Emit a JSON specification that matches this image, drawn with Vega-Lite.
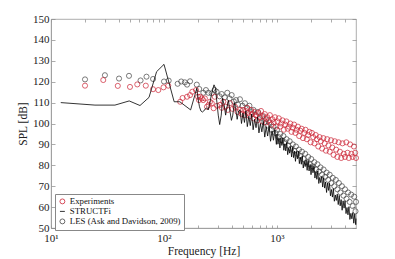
{
"$schema": "https://vega.github.io/schema/vega-lite/v6.json",
"width": 305, "height": 209,
"autosize": {"type": "none"},
"padding": {"left": 51, "top": 19, "right": 39, "bottom": 31},
"background": "white",
"config": {
 "font": "Liberation Serif",
 "view": {"stroke": "#999", "strokeWidth": 0.8},
 "axis": {"grid": false, "domainColor": "#999", "domainWidth": 0.8, "tickColor": "#888", "tickWidth": 0.7, "labelFont": "Liberation Serif", "titleFont": "Liberation Serif", "labelColor": "#222", "titleColor": "#222", "labelFontSize": 11, "titleFontSize": 11.5, "titleFontWeight": "normal", "labelFlush": false, "labelOverlap": false},
 "legend": {"labelFont": "Liberation Serif", "titleFont": "Liberation Serif"}
},
"datasets": {
"pts": [
{"f":20,"v":121.1,"s":"LES"},{"f":30,"v":123.1,"s":"LES"},{"f":40,"v":121.5,"s":"LES"},{"f":49,"v":122.8,"s":"LES"},{"f":62,"v":120.6,"s":"LES"},{"f":70,"v":122.4,"s":"LES"},{"f":80,"v":121.3,"s":"LES"},{"f":100,"v":120.1,"s":"LES"},{"f":110,"v":120.5,"s":"LES"},{"f":132,"v":119,"s":"LES"},{"f":142,"v":120.1,"s":"LES"},{"f":153,"v":119.7,"s":"LES"},{"f":160,"v":118.6,"s":"LES"},{"f":170,"v":120.2,"s":"LES"},{"f":195,"v":118.6,"s":"LES"},
{"f":205,"v":116.5,"s":"LES"},{"f":223,"v":114.7,"s":"LES"},{"f":235,"v":116,"s":"LES"},{"f":247,"v":114.7,"s":"LES"},{"f":264,"v":114.4,"s":"LES"},{"f":280,"v":116,"s":"LES"},{"f":292,"v":115.2,"s":"LES"},{"f":310,"v":113,"s":"LES"},{"f":324,"v":114.1,"s":"LES"},{"f":345,"v":112.5,"s":"LES"},{"f":363,"v":114.7,"s":"LES"},{"f":380,"v":112,"s":"LES"},{"f":397,"v":113.6,"s":"LES"},{"f":415,"v":110.5,"s":"LES"},{"f":434,"v":111.2,"s":"LES"},{"f":452,"v":109,"s":"LES"},{"f":470,"v":111.6,"s":"LES"},
{"f":495,"v":108.5,"s":"LES"},{"f":520,"v":109.7,"s":"LES"},{"f":545,"v":107.3,"s":"LES"},{"f":570,"v":108.5,"s":"LES"},{"f":595,"v":105.5,"s":"LES"},{"f":620,"v":106.5,"s":"LES"},{"f":650,"v":104,"s":"LES"},{"f":680,"v":105.5,"s":"LES"},{"f":710,"v":102.5,"s":"LES"},{"f":740,"v":103.5,"s":"LES"},{"f":770,"v":100.5,"s":"LES"},{"f":800,"v":102,"s":"LES"},{"f":830,"v":99,"s":"LES"},{"f":860,"v":100.5,"s":"LES"},{"f":895,"v":97,"s":"LES"},{"f":930,"v":98.5,"s":"LES"},{"f":965,"v":95.5,"s":"LES"},{"f":1000,"v":97,"s":"LES"},{"f":1035,"v":93.5,"s":"LES"},{"f":1070,"v":95,"s":"LES"},{"f":1105,"v":92,"s":"LES"},{"f":1140,"v":94,"s":"LES"},{"f":1175,"v":91,"s":"LES"},{"f":1215,"v":92.5,"s":"LES"},{"f":1255,"v":89.5,"s":"LES"},{"f":1295,"v":91.5,"s":"LES"},{"f":1335,"v":88,"s":"LES"},{"f":1380,"v":90,"s":"LES"},{"f":1425,"v":87,"s":"LES"},{"f":1470,"v":89,"s":"LES"},{"f":1515,"v":85.5,"s":"LES"},{"f":1565,"v":87.5,"s":"LES"},{"f":1615,"v":84.5,"s":"LES"},{"f":1665,"v":86.5,"s":"LES"},{"f":1720,"v":83,"s":"LES"},{"f":1775,"v":85.5,"s":"LES"},{"f":1830,"v":81.5,"s":"LES"},{"f":1890,"v":84,"s":"LES"},{"f":1950,"v":80.5,"s":"LES"},{"f":2010,"v":83,"s":"LES"},{"f":2075,"v":79.5,"s":"LES"},{"f":2140,"v":81.5,"s":"LES"},{"f":2210,"v":78,"s":"LES"},{"f":2280,"v":80.5,"s":"LES"},{"f":2350,"v":77,"s":"LES"},{"f":2425,"v":79,"s":"LES"},{"f":2500,"v":75.5,"s":"LES"},{"f":2580,"v":78,"s":"LES"},{"f":2665,"v":74.5,"s":"LES"},{"f":2750,"v":76.5,"s":"LES"},{"f":2835,"v":73,"s":"LES"},{"f":2925,"v":75.5,"s":"LES"},{"f":3020,"v":71.5,"s":"LES"},{"f":3115,"v":74,"s":"LES"},{"f":3215,"v":70,"s":"LES"},{"f":3315,"v":73,"s":"LES"},{"f":3420,"v":68.5,"s":"LES"},{"f":3530,"v":71.5,"s":"LES"},{"f":3640,"v":67,"s":"LES"},{"f":3755,"v":70,"s":"LES"},{"f":3875,"v":65.5,"s":"LES"},{"f":4000,"v":68.5,"s":"LES"},{"f":4125,"v":64,"s":"LES"},{"f":4255,"v":67,"s":"LES"},{"f":4390,"v":62.5,"s":"LES"},{"f":4530,"v":66,"s":"LES"},{"f":4675,"v":60.5,"s":"LES"},{"f":4820,"v":65,"s":"LES"},{"f":4950,"v":58,"s":"LES"},{"f":5000,"v":62.5,"s":"LES"},
{"f":20,"v":118.1,"s":"Experiments"},{"f":29,"v":120.8,"s":"Experiments"},{"f":39,"v":118,"s":"Experiments"},{"f":50,"v":117.5,"s":"Experiments"},{"f":58,"v":118.7,"s":"Experiments"},{"f":69,"v":118.1,"s":"Experiments"},{"f":80,"v":116.4,"s":"Experiments"},{"f":89,"v":116,"s":"Experiments"},{"f":99,"v":117.3,"s":"Experiments"},{"f":109,"v":118.1,"s":"Experiments"},{"f":139,"v":110.4,"s":"Experiments"},{"f":146,"v":112.2,"s":"Experiments"},{"f":160,"v":112.8,"s":"Experiments"},{"f":170,"v":113.6,"s":"Experiments"},{"f":178,"v":115.2,"s":"Experiments"},{"f":192,"v":116,"s":"Experiments"},
{"f":200,"v":112.8,"s":"Experiments"},{"f":204,"v":111.2,"s":"Experiments"},{"f":209,"v":112.8,"s":"Experiments"},{"f":216,"v":112,"s":"Experiments"},{"f":222,"v":111.2,"s":"Experiments"},{"f":230,"v":112,"s":"Experiments"},{"f":240,"v":108,"s":"Experiments"},{"f":248,"v":108.9,"s":"Experiments"},{"f":255,"v":110.4,"s":"Experiments"},{"f":265,"v":109.7,"s":"Experiments"},{"f":275,"v":107.3,"s":"Experiments"},{"f":281,"v":112.8,"s":"Experiments"},{"f":295,"v":108.5,"s":"Experiments"},{"f":313,"v":108.9,"s":"Experiments"},{"f":325,"v":107.5,"s":"Experiments"},{"f":335,"v":110.4,"s":"Experiments"},{"f":350,"v":108,"s":"Experiments"},{"f":367,"v":106.5,"s":"Experiments"},{"f":384,"v":109.7,"s":"Experiments"},{"f":404,"v":107,"s":"Experiments"},{"f":425,"v":108,"s":"Experiments"},{"f":447,"v":105.5,"s":"Experiments"},{"f":470,"v":106.5,"s":"Experiments"},{"f":486,"v":104.5,"s":"Experiments"},
{"f":500,"v":106.5,"s":"Experiments"},{"f":515,"v":104,"s":"Experiments"},{"f":530,"v":106,"s":"Experiments"},{"f":545,"v":107.5,"s":"Experiments"},{"f":556,"v":105,"s":"Experiments"},{"f":572,"v":103.5,"s":"Experiments"},{"f":588,"v":106.5,"s":"Experiments"},{"f":602,"v":104.5,"s":"Experiments"},{"f":618,"v":102.5,"s":"Experiments"},{"f":634,"v":105.5,"s":"Experiments"},{"f":650,"v":104,"s":"Experiments"},{"f":668,"v":101.5,"s":"Experiments"},{"f":685,"v":105,"s":"Experiments"},{"f":703,"v":103,"s":"Experiments"},{"f":722,"v":106,"s":"Experiments"},{"f":741,"v":101,"s":"Experiments"},{"f":760,"v":103.5,"s":"Experiments"},{"f":780,"v":104.5,"s":"Experiments"},{"f":800,"v":100.5,"s":"Experiments"},{"f":821,"v":103,"s":"Experiments"},{"f":843,"v":101.5,"s":"Experiments"},{"f":865,"v":104,"s":"Experiments"},{"f":888,"v":99.5,"s":"Experiments"},{"f":911,"v":102,"s":"Experiments"},{"f":935,"v":100.5,"s":"Experiments"},{"f":960,"v":103,"s":"Experiments"},{"f":985,"v":98.5,"s":"Experiments"},{"f":1010,"v":101,"s":"Experiments"},{"f":1037,"v":102.5,"s":"Experiments"},{"f":1064,"v":98.5,"s":"Experiments"},{"f":1092,"v":100,"s":"Experiments"},{"f":1120,"v":101.5,"s":"Experiments"},{"f":1150,"v":97,"s":"Experiments"},{"f":1180,"v":99.5,"s":"Experiments"},{"f":1211,"v":101,"s":"Experiments"},{"f":1243,"v":97.5,"s":"Experiments"},{"f":1276,"v":98.5,"s":"Experiments"},{"f":1310,"v":100,"s":"Experiments"},{"f":1344,"v":96,"s":"Experiments"},{"f":1380,"v":98,"s":"Experiments"},{"f":1416,"v":99.5,"s":"Experiments"},{"f":1453,"v":95.5,"s":"Experiments"},{"f":1491,"v":97,"s":"Experiments"},{"f":1530,"v":98.5,"s":"Experiments"},{"f":1570,"v":94,"s":"Experiments"},{"f":1612,"v":96.5,"s":"Experiments"},{"f":1654,"v":97.5,"s":"Experiments"},{"f":1698,"v":93,"s":"Experiments"},{"f":1742,"v":95.5,"s":"Experiments"},{"f":1788,"v":97,"s":"Experiments"},{"f":1835,"v":92.5,"s":"Experiments"},{"f":1883,"v":94.5,"s":"Experiments"},{"f":1933,"v":96,"s":"Experiments"},{"f":1984,"v":91,"s":"Experiments"},{"f":2036,"v":95.5,"s":"Experiments"},{"f":2090,"v":93.5,"s":"Experiments"},{"f":2145,"v":90.5,"s":"Experiments"},{"f":2201,"v":94.5,"s":"Experiments"},{"f":2259,"v":92.5,"s":"Experiments"},{"f":2318,"v":89,"s":"Experiments"},{"f":2379,"v":93.5,"s":"Experiments"},{"f":2442,"v":91.5,"s":"Experiments"},{"f":2506,"v":88,"s":"Experiments"},{"f":2572,"v":93,"s":"Experiments"},{"f":2640,"v":90.5,"s":"Experiments"},{"f":2709,"v":87,"s":"Experiments"},{"f":2780,"v":92.5,"s":"Experiments"},{"f":2853,"v":89.5,"s":"Experiments"},{"f":2928,"v":86.5,"s":"Experiments"},{"f":3005,"v":92,"s":"Experiments"},{"f":3084,"v":88.5,"s":"Experiments"},{"f":3165,"v":85,"s":"Experiments"},{"f":3248,"v":91.5,"s":"Experiments"},{"f":3334,"v":87.5,"s":"Experiments"},{"f":3421,"v":84,"s":"Experiments"},{"f":3511,"v":91,"s":"Experiments"},{"f":3603,"v":86.5,"s":"Experiments"},{"f":3698,"v":83.5,"s":"Experiments"},{"f":3795,"v":90.5,"s":"Experiments"},{"f":3895,"v":85.5,"s":"Experiments"},{"f":3997,"v":84,"s":"Experiments"},{"f":4102,"v":91,"s":"Experiments"},{"f":4210,"v":86,"s":"Experiments"},{"f":4320,"v":83.5,"s":"Experiments"},{"f":4434,"v":90,"s":"Experiments"},{"f":4550,"v":85.5,"s":"Experiments"},{"f":4670,"v":84,"s":"Experiments"},{"f":4792,"v":89,"s":"Experiments"},{"f":4918,"v":86,"s":"Experiments"},{"f":5000,"v":83.5,"s":"Experiments"}
],
"line": [
{"f":12.2,"v":110,"s":"STRUCTFi"},{"f":24.5,"v":108.8,"s":"STRUCTFi"},{"f":36.8,"v":108.8,"s":"STRUCTFi"},{"f":49.2,"v":110.8,"s":"STRUCTFi"},{"f":61.3,"v":108.6,"s":"STRUCTFi"},{"f":73.7,"v":112.5,"s":"STRUCTFi"},{"f":86,"v":124.8,"s":"STRUCTFi"},{"f":100,"v":128.3,"s":"STRUCTFi"},{"f":123,"v":110.4,"s":"STRUCTFi"},{"f":138,"v":110.4,"s":"STRUCTFi"},{"f":172,"v":106.5,"s":"STRUCTFi"},{"f":195,"v":116.8,"s":"STRUCTFi"},
{"f":200,"v":112,"s":"STRUCTFi"},{"f":206,"v":108,"s":"STRUCTFi"},{"f":212,"v":106,"s":"STRUCTFi"},{"f":219,"v":105.5,"s":"STRUCTFi"},{"f":225,"v":106,"s":"STRUCTFi"},{"f":232,"v":107,"s":"STRUCTFi"},{"f":239,"v":107.5,"s":"STRUCTFi"},{"f":246,"v":106.5,"s":"STRUCTFi"},{"f":253,"v":109,"s":"STRUCTFi"},{"f":261,"v":113,"s":"STRUCTFi"},{"f":269,"v":116,"s":"STRUCTFi"},{"f":277,"v":118.5,"s":"STRUCTFi"},{"f":285,"v":117,"s":"STRUCTFi"},{"f":294,"v":110,"s":"STRUCTFi"},{"f":302,"v":104,"s":"STRUCTFi"},{"f":311,"v":99.5,"s":"STRUCTFi"},{"f":321,"v":104,"s":"STRUCTFi"},{"f":330,"v":112,"s":"STRUCTFi"},{"f":340,"v":109,"s":"STRUCTFi"},{"f":351,"v":104,"s":"STRUCTFi"},{"f":361,"v":108,"s":"STRUCTFi"},{"f":372,"v":111,"s":"STRUCTFi"},{"f":383,"v":106,"s":"STRUCTFi"},{"f":395,"v":101.5,"s":"STRUCTFi"},{"f":406,"v":104,"s":"STRUCTFi"},{"f":419,"v":110,"s":"STRUCTFi"},{"f":431,"v":107,"s":"STRUCTFi"},{"f":444,"v":102,"s":"STRUCTFi"},{"f":457,"v":106,"s":"STRUCTFi"},
{"f":471,"v":106.5,"s":"STRUCTFi"},{"f":485,"v":100,"s":"STRUCTFi"},{"f":500,"v":105,"s":"STRUCTFi"},{"f":515,"v":100.5,"s":"STRUCTFi"},{"f":530,"v":106,"s":"STRUCTFi"},{"f":546,"v":98.5,"s":"STRUCTFi"},{"f":563,"v":103.5,"s":"STRUCTFi"},{"f":580,"v":99,"s":"STRUCTFi"},{"f":597,"v":104.5,"s":"STRUCTFi"},{"f":615,"v":97,"s":"STRUCTFi"},{"f":633,"v":102,"s":"STRUCTFi"},{"f":652,"v":98,"s":"STRUCTFi"},{"f":672,"v":103,"s":"STRUCTFi"},{"f":692,"v":95.5,"s":"STRUCTFi"},{"f":713,"v":100,"s":"STRUCTFi"},{"f":734,"v":96,"s":"STRUCTFi"},{"f":756,"v":101,"s":"STRUCTFi"},{"f":779,"v":93.5,"s":"STRUCTFi"},{"f":802,"v":98.5,"s":"STRUCTFi"},{"f":826,"v":94,"s":"STRUCTFi"},{"f":851,"v":99,"s":"STRUCTFi"},{"f":877,"v":91.5,"s":"STRUCTFi"},{"f":903,"v":96.5,"s":"STRUCTFi"},{"f":930,"v":92,"s":"STRUCTFi"},{"f":958,"v":97,"s":"STRUCTFi"},{"f":987,"v":90,"s":"STRUCTFi"},
{"f":1000,"v":95,"s":"STRUCTFi"},{"f":1020,"v":90.1,"s":"STRUCTFi"},{"f":1040,"v":93.2,"s":"STRUCTFi"},{"f":1061,"v":88.3,"s":"STRUCTFi"},{"f":1082,"v":92.9,"s":"STRUCTFi"},{"f":1104,"v":89.5,"s":"STRUCTFi"},{"f":1126,"v":93.1,"s":"STRUCTFi"},{"f":1149,"v":87.2,"s":"STRUCTFi"},{"f":1172,"v":90.3,"s":"STRUCTFi"},{"f":1195,"v":86.9,"s":"STRUCTFi"},{"f":1219,"v":91,"s":"STRUCTFi"},{"f":1243,"v":85.1,"s":"STRUCTFi"},{"f":1268,"v":88.2,"s":"STRUCTFi"},{"f":1294,"v":85.8,"s":"STRUCTFi"},{"f":1319,"v":88.9,"s":"STRUCTFi"},{"f":1346,"v":84,"s":"STRUCTFi"},{"f":1373,"v":88.6,"s":"STRUCTFi"},{"f":1400,"v":83.7,"s":"STRUCTFi"},{"f":1428,"v":86.8,"s":"STRUCTFi"},{"f":1457,"v":81.9,"s":"STRUCTFi"},{"f":1486,"v":86.5,"s":"STRUCTFi"},{"f":1516,"v":83.1,"s":"STRUCTFi"},{"f":1546,"v":86.7,"s":"STRUCTFi"},{"f":1577,"v":80.8,"s":"STRUCTFi"},{"f":1608,"v":83.9,"s":"STRUCTFi"},{"f":1641,"v":80.5,"s":"STRUCTFi"},{"f":1673,"v":84.6,"s":"STRUCTFi"},{"f":1707,"v":78.7,"s":"STRUCTFi"},{"f":1741,"v":81.8,"s":"STRUCTFi"},{"f":1776,"v":79.4,"s":"STRUCTFi"},{"f":1811,"v":82.5,"s":"STRUCTFi"},{"f":1848,"v":77.6,"s":"STRUCTFi"},{"f":1885,"v":82.2,"s":"STRUCTFi"},{"f":1922,"v":77.3,"s":"STRUCTFi"},{"f":1961,"v":80.4,"s":"STRUCTFi"},{"f":2000,"v":75.5,"s":"STRUCTFi"},{"f":2040,"v":80,"s":"STRUCTFi"},{"f":2081,"v":76.4,"s":"STRUCTFi"},{"f":2122,"v":79.9,"s":"STRUCTFi"},{"f":2165,"v":73.9,"s":"STRUCTFi"},{"f":2208,"v":76.9,"s":"STRUCTFi"},{"f":2252,"v":73.3,"s":"STRUCTFi"},{"f":2297,"v":77.3,"s":"STRUCTFi"},{"f":2343,"v":71.3,"s":"STRUCTFi"},{"f":2390,"v":74.2,"s":"STRUCTFi"},{"f":2438,"v":71.7,"s":"STRUCTFi"},{"f":2487,"v":74.7,"s":"STRUCTFi"},{"f":2536,"v":69.6,"s":"STRUCTFi"},{"f":2587,"v":74.1,"s":"STRUCTFi"},{"f":2639,"v":69.1,"s":"STRUCTFi"},{"f":2692,"v":72,"s":"STRUCTFi"},{"f":2745,"v":67,"s":"STRUCTFi"},{"f":2800,"v":71.5,"s":"STRUCTFi"},{"f":2856,"v":68,"s":"STRUCTFi"},{"f":2913,"v":71.4,"s":"STRUCTFi"},{"f":2972,"v":65.4,"s":"STRUCTFi"},{"f":3031,"v":68.4,"s":"STRUCTFi"},{"f":3092,"v":64.8,"s":"STRUCTFi"},{"f":3154,"v":68.8,"s":"STRUCTFi"},{"f":3217,"v":62.8,"s":"STRUCTFi"},{"f":3281,"v":65.8,"s":"STRUCTFi"},{"f":3347,"v":63.2,"s":"STRUCTFi"},{"f":3414,"v":66.2,"s":"STRUCTFi"},{"f":3482,"v":61.2,"s":"STRUCTFi"},{"f":3551,"v":65.6,"s":"STRUCTFi"},{"f":3622,"v":60.6,"s":"STRUCTFi"},{"f":3695,"v":63.6,"s":"STRUCTFi"},{"f":3769,"v":58.5,"s":"STRUCTFi"},{"f":3844,"v":63,"s":"STRUCTFi"},{"f":3921,"v":59.5,"s":"STRUCTFi"},{"f":4000,"v":63,"s":"STRUCTFi"},{"f":4080,"v":56.9,"s":"STRUCTFi"},{"f":4161,"v":59.8,"s":"STRUCTFi"},{"f":4245,"v":56.3,"s":"STRUCTFi"},{"f":4330,"v":60.2,"s":"STRUCTFi"},{"f":4416,"v":54.1,"s":"STRUCTFi"},{"f":4505,"v":57,"s":"STRUCTFi"},{"f":4595,"v":54.4,"s":"STRUCTFi"},{"f":4687,"v":57.4,"s":"STRUCTFi"},{"f":4780,"v":52.3,"s":"STRUCTFi"},{"f":4876,"v":56.7,"s":"STRUCTFi"},{"f":4973,"v":51.6,"s":"STRUCTFi"},{"f":5000,"v":54.5,"s":"STRUCTFi"}
]
},
"layer": [
 {
  "data": {"name": "pts"},
  "mark": {"type": "point", "filled": false, "size": 26, "strokeWidth": 0.7, "opacity": 1},
  "encoding": {
   "x": {"field": "f", "type": "quantitative", "scale": {"type": "log", "domain": [10, 5000], "nice": false},
         "axis": {"orient": "bottom", "values": [10,20,30,40,50,60,70,80,90,100,200,300,400,500,600,700,800,900,1000,2000,3000,4000], "labelExpr": "datum.value == 10 ? '10¹' : datum.value == 100 ? '10²' : datum.value == 1000 ? '10³' : ''", "tickSize": -3, "labelPadding": 7, "title": "Frequency [Hz]", "titlePadding": 2}},
   "y": {"field": "v", "type": "quantitative", "scale": {"domain": [50, 150], "nice": false, "zero": false},
         "axis": {"orient": "left", "values": [50,60,70,80,90,100,110,120,130,140,150], "tickSize": -4, "labelPadding": 6, "title": "SPL [dB]", "titlePadding": 4}},
   "color": {"field": "s", "type": "nominal", "scale": {"domain": ["Experiments", "STRUCTFi", "LES"], "range": ["#cc2233", "#000000", "#444444"]},
             "legend": {"title": null, "orient": "none", "legendX": 4, "legendY": 175, "labelExpr": "datum.label == 'LES' ? 'LES (Ask and Davidson, 2009)' : datum.label", "labelFontSize": 8.8, "labelFont": "Liberation Serif", "labelColor": "#111", "symbolSize": 24, "symbolStrokeWidth": 0.8, "strokeColor": "#888", "fillColor": "white", "padding": 3, "rowPadding": 0, "cornerRadius": 0, "labelOffset": 3}},
   "shape": {"field": "s", "type": "nominal", "scale": {"domain": ["Experiments", "STRUCTFi", "LES"], "range": ["circle", "stroke", "circle"]},
             "legend": {"title": null, "orient": "none", "legendX": 4, "legendY": 175, "labelExpr": "datum.label == 'LES' ? 'LES (Ask and Davidson, 2009)' : datum.label", "labelFontSize": 8.8, "labelFont": "Liberation Serif", "labelColor": "#111", "symbolSize": 24, "symbolStrokeWidth": 0.8, "strokeColor": "#888", "fillColor": "white", "padding": 3, "rowPadding": 0, "cornerRadius": 0, "labelOffset": 3}}
  }
 },
 {
  "data": {"name": "line"},
  "mark": {"type": "line", "strokeWidth": 0.8},
  "encoding": {
   "x": {"field": "f", "type": "quantitative", "axis": {"orient": "top", "values": [10,20,30,40,50,60,70,80,90,100,200,300,400,500,600,700,800,900,1000,2000,3000,4000], "labels": false, "tickSize": -3, "title": null, "domain": false}},
   "y": {"field": "v", "type": "quantitative", "axis": {"orient": "right", "values": [50,60,70,80,90,100,110,120,130,140,150], "labels": false, "tickSize": -4, "title": null, "domain": false}},
   "color": {"field": "s", "type": "nominal"}
  }
 }
],
"resolve": {"axis": {"x": "independent", "y": "independent"}}
}
